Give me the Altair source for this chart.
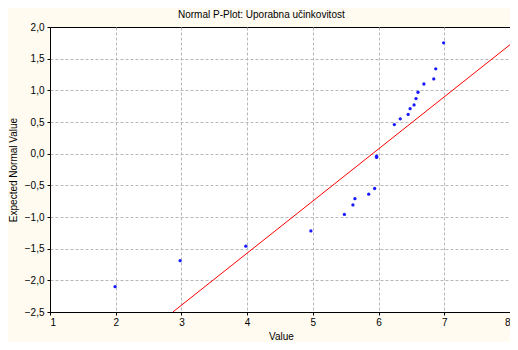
import altair as alt
import pandas as pd

values = [1.99, 2.98, 3.98, 4.97, 5.48, 5.61, 5.64, 5.85, 5.94, 5.97, 5.97,
          6.24, 6.33, 6.45, 6.48, 6.54, 6.57, 6.60, 6.69, 6.84, 6.87, 6.99]
expected = [-2.10, -1.69, -1.46, -1.22, -0.96, -0.81, -0.71, -0.64, -0.55, -0.06, -0.04,
            0.46, 0.55, 0.62, 0.71, 0.77, 0.87, 0.97, 1.10, 1.18, 1.34, 1.75]
line_x = [2.87, 8.0]
line_y = [-2.5, 1.72]
x_ticks = [1, 2, 3, 4, 5, 6, 7, 8]
y_ticks = [-2.5, -2.0, -1.5, -1.0, -0.5, 0.0, 0.5, 1.0, 1.5, 2.0]

pts = pd.DataFrame({"Value": values, "Expected": expected})
ln = pd.DataFrame({"Value": line_x, "Expected": line_y})

lab_font = "Liberation Sans"
xscale = alt.Scale(domain=[1, 8], nice=False, zero=False)
yscale = alt.Scale(domain=[-2.5, 2.0], nice=False, zero=False)

xaxis = alt.Axis(values=x_ticks, title="Value", format="d",
                 grid=True, gridColor="#b8b8b8", gridDash=[3, 2], gridWidth=1,
                 gridOpacity={"condition": {"test": "datum.value <= 1 || datum.value >= 8", "value": 0}, "value": 1},
                 domainColor="#000000", tickColor="#000000", tickSize=3,
                 labelFont=lab_font, labelFontSize=10, labelColor="#000000",
                 labelOverlap=False,
                 titleFont=lab_font, titleFontSize=10, titleFontWeight="normal",
                 titleColor="#000000", titlePadding=4, labelPadding=2,
                 titleX=231, titleAnchor="start", titleAlign="center")
yaxis = alt.Axis(values=y_ticks, title="Expected Normal Value",
                 format=".1f",
                 labelExpr="replace(datum.label, '.', ',')",
                 labelOverlap=False,
                 grid=True, gridColor="#b8b8b8", gridDash=[3, 2], gridWidth=1,
                 gridOpacity={"condition": {"test": "datum.value <= -2.5 || datum.value >= 2", "value": 0}, "value": 1},
                 domainColor="#000000", tickColor="#000000", tickSize=3,
                 labelFont=lab_font, labelFontSize=10, labelColor="#000000",
                 titleFont=lab_font, titleFontSize=10, titleFontWeight="normal",
                 titleColor="#000000", titlePadding=6, labelPadding=3)

points = alt.Chart(pts).mark_circle(size=11, color="#1a1aff", opacity=1).encode(
    x=alt.X("Value:Q", scale=xscale, axis=xaxis),
    y=alt.Y("Expected:Q", scale=yscale, axis=yaxis),
)

line = alt.Chart(ln).mark_line(color="#ff0000", strokeWidth=1, clip=True).encode(
    x=alt.X("Value:Q", scale=xscale, axis=xaxis),
    y=alt.Y("Expected:Q", scale=yscale, axis=yaxis),
)

chart = alt.layer(line, points).properties(
    width=460,
    height=285,
    background="#fffbf0",
    padding={"left": 42, "top": 19, "right": 0, "bottom": 30},
    autosize=alt.AutoSizeParams(type="none"),
    title=alt.Title("Normal P-Plot: Uporabna učinkovitost", font=lab_font,
                    fontSize=10, fontWeight="normal", color="#000000",
                    anchor="start", frame="group", dx=128, offset=2),
).configure_view(fill="#ffffff", stroke="#000000", strokeWidth=1)

chart.save("out.html", embed_options={"renderer": "svg", "actions": False})
